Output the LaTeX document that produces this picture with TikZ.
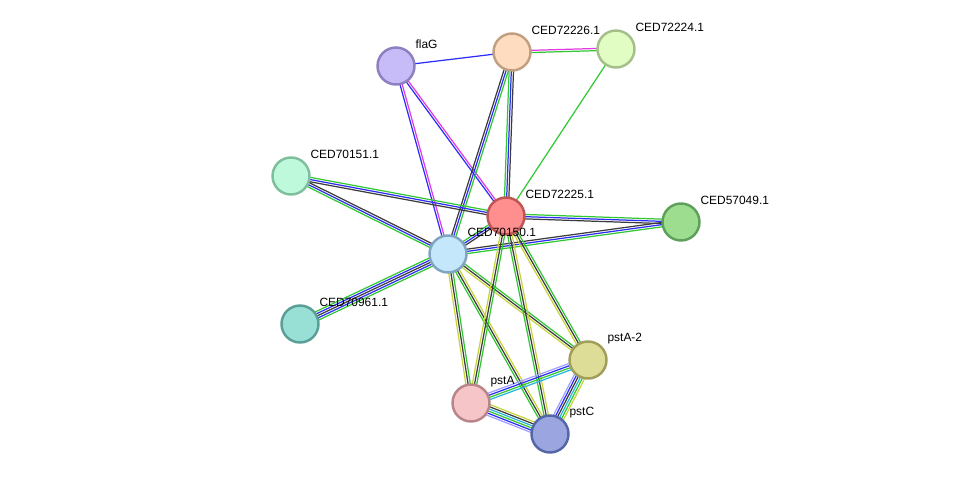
\documentclass[tikz,border=0pt]{standalone}
\usepackage{fontspec}
\setmainfont{Liberation Sans}
\usetikzlibrary{calc, backgrounds}

% evidence colours
\definecolor{nbhgreen}{RGB}{50,200,50}
\definecolor{coocblue}{RGB}{45,45,250}
\definecolor{coexdark}{RGB}{60,60,60}
\definecolor{textyel}{RGB}{200,212,60}
\definecolor{expmag}{RGB}{225,60,225}
\definecolor{dbcyan}{RGB}{40,180,220}
\definecolor{homlil}{RGB}{160,160,255}

\tikzset{
  prot/.style={circle, minimum size=0.74cm, inner sep=0pt, line width=1.4pt},
  lbl/.style={font=\fontsize{6.8}{8.2}\selectfont, inner sep=0pt, xshift=-0.01cm, yshift=0.43cm}
}

% bundle of parallel evidence lines between two nodes
\newcommand{\stredge}[4]{%
  \foreach \c [count=\i] in {#4} {
    \pgfmathsetmacro{\off}{(\i-(#3+1)/2)*0.044}
    \draw[\c, line width=0.7pt] ($(#1.center)!\off cm!90:(#2.center)$) -- ($(#2.center)!\off cm!-90:(#1.center)$);
  }}

\begin{document}
\begin{tikzpicture}[x=0.02cm, y=-0.02cm]

    \useasboundingbox (0,0) rectangle (976,480);

    % Proteins
    \node[prot, fill={rgb,255:red,200;green,188;blue,248}, draw={rgb,255:red,142;green,127;blue,192},
      label={[lbl]right:flaG}] (flaG) at (396,66) {};
    \node[prot, fill={rgb,255:red,253;green,220;blue,192}, draw={rgb,255:red,192;green,160;blue,128},
      label={[lbl]right:CED72226.1}] (c226) at (512,52) {};
    \node[prot, fill={rgb,255:red,225;green,253;blue,196}, draw={rgb,255:red,165;green,191;blue,138},
      label={[lbl]right:CED72224.1}] (c224) at (616,49) {};
    \node[prot, fill={rgb,255:red,190;green,249;blue,219}, draw={rgb,255:red,127;green,191;blue,158},
      label={[lbl]right:CED70151.1}] (c151) at (291,176) {};
    \node[prot, fill={rgb,255:red,255;green,142;blue,142}, draw={rgb,255:red,192;green,85;blue,85},
      label={[lbl]right:CED72225.1}] (c225) at (506,216) {};
    \node[prot, fill={rgb,255:red,157;green,221;blue,144}, draw={rgb,255:red,92;green,160;blue,90},
      label={[lbl]right:CED57049.1}] (c049) at (681,222) {};
    \node[prot, fill={rgb,255:red,196;green,231;blue,251}, draw={rgb,255:red,127;green,165;blue,192},
      label={[lbl]right:CED70150.1}] (c150) at (448,254) {};
    \node[prot, fill={rgb,255:red,152;green,223;blue,214}, draw={rgb,255:red,90;green,158;blue,152},
      label={[lbl]right:CED70961.1}] (c961) at (300,324) {};
    \node[prot, fill={rgb,255:red,222;green,221;blue,151}, draw={rgb,255:red,160;green,158;blue,88},
      label={[lbl]right:pstA-2}] (pstA2) at (588,360) {};
    \node[prot, fill={rgb,255:red,246;green,197;blue,200}, draw={rgb,255:red,184;green,134;blue,136},
      label={[lbl]right:pstA}] (pstA) at (471,403) {};
    \node[prot, fill={rgb,255:red,155;green,166;blue,224}, draw={rgb,255:red,85;green,102;blue,168},
      label={[lbl]right:pstC}] (pstC) at (550,434) {};

    % Interactions
    \begin{scope}[on background layer]
      \stredge{flaG}{c226}{1}{coocblue}
      \stredge{flaG}{c225}{2}{coocblue,expmag}
      \stredge{flaG}{c150}{2}{coocblue,expmag}
      \stredge{c226}{c224}{2}{nbhgreen,expmag}
      \stredge{c226}{c225}{3}{nbhgreen,coocblue,coexdark}
      \stredge{c226}{c150}{3}{coexdark,coocblue,nbhgreen}
      \stredge{c224}{c225}{1}{nbhgreen}
      \stredge{c151}{c225}{3}{coexdark,coocblue,nbhgreen}
      \stredge{c151}{c150}{3}{nbhgreen,coocblue,coexdark}
      \stredge{c225}{c049}{3}{coexdark,coocblue,nbhgreen}
      \stredge{c225}{c150}{3}{nbhgreen,coocblue,coexdark}
      \stredge{c150}{c049}{3}{nbhgreen,coocblue,coexdark}
      \stredge{c150}{c961}{5}{nbhgreen,coocblue,coexdark,coocblue,nbhgreen}
      \stredge{c150}{pstA}{3}{textyel,coexdark,nbhgreen}
      \stredge{c150}{pstC}{3}{nbhgreen,coexdark,textyel}
      \stredge{c150}{pstA2}{3}{textyel,coexdark,nbhgreen}
      \stredge{c225}{pstA}{3}{textyel,coexdark,nbhgreen}
      \stredge{c225}{pstC}{3}{nbhgreen,coexdark,textyel}
      \stredge{c225}{pstA2}{3}{textyel,coexdark,nbhgreen}
      \stredge{pstA}{pstA2}{4}{dbcyan,nbhgreen,coocblue,homlil}
      \stredge{pstA}{pstC}{6}{homlil,coocblue,nbhgreen,dbcyan,coexdark,textyel}
      \stredge{pstA2}{pstC}{6}{homlil,coocblue,coexdark,dbcyan,nbhgreen,textyel}
    \end{scope}

\end{tikzpicture}
\end{document}
